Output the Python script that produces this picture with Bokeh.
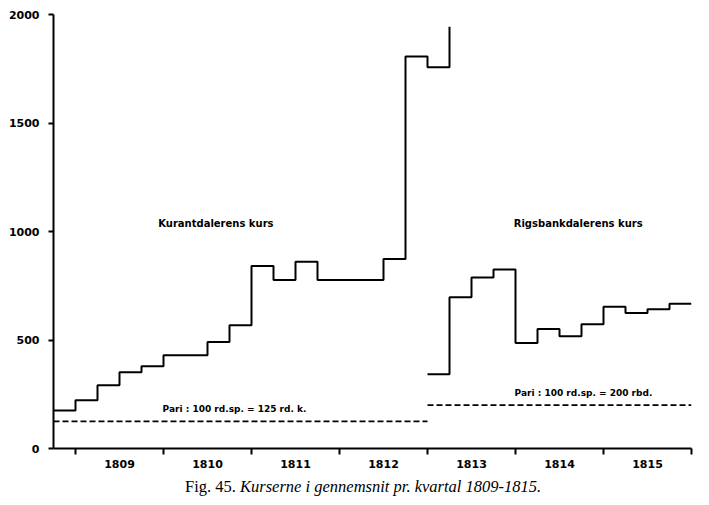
from bokeh.plotting import figure
from bokeh.models import Range1d, FixedTicker, Label, Div
from bokeh.layouts import column
from bokeh.embed import file_html
from bokeh.resources import INLINE

# ---- data (quarterly averages) ----
years = [1809, 1810, 1811, 1812, 1813, 1814, 1815]
y_ticks = [0, 500, 1000, 1500, 2000]

kurant_start = 1808.75  # first quarter shown
kurant_values = [175, 222, 291, 351, 379, 430, 430, 491, 568,
                 841, 776, 861, 776, 776, 776, 873, 1807, 1757]
kurant_exit_value = 1943  # line leaves the chart upwards

rigsbank_start = 1813.0
rigsbank_values = [342, 697, 788, 825, 486, 551, 517, 573,
                   653, 625, 642, 667]

pari_kurant = 125
pari_rigsbank = 200

caption_fig = "Fig. 45."
caption_text = "Kurserne i gennemsnit pr. kvartal 1809-1815."

# ---- derived x positions ----
kx = [kurant_start + 0.25 * i for i in range(len(kurant_values) + 1)]
ky = kurant_values + [kurant_exit_value]
rx = [rigsbank_start + 0.25 * i for i in range(len(rigsbank_values) + 1)]
ry = rigsbank_values + [rigsbank_values[-1]]

x0 = kurant_start
x_end = years[-1] + 1

p = figure(width=701, height=478, output_backend="svg", toolbar_location=None,
           x_range=Range1d(x0, x_end), y_range=Range1d(0, 2000),
           min_border_left=53, min_border_right=10, min_border_top=14,
           min_border_bottom=30)
p.outline_line_color = None
p.xgrid.visible = False
p.ygrid.visible = False
p.background_fill_color = "white"
p.border_fill_color = "white"

# step lines
p.step(kx, ky, mode="after", line_color="black", line_width=2)
p.step(rx, ry, mode="after", line_color="black", line_width=2)

# parity lines
p.line([x0, rigsbank_start], [pari_kurant, pari_kurant], line_color="black",
       line_width=1.6, line_dash="6 3")
p.line([rigsbank_start, x_end], [pari_rigsbank, pari_rigsbank], line_color="black",
       line_width=1.6, line_dash="6 3")

font = "DejaVu Sans"

# x axis: minor ticks at year boundaries, labels at year centres
xa = p.xaxis[0]
xa.ticker = FixedTicker(ticks=[y + 0.5 for y in years],
                        minor_ticks=[y for y in years] + [x_end])
xa.major_label_overrides = {y + 0.5: str(y) for y in years}
xa.major_tick_out = 0
xa.major_tick_in = 0
xa.minor_tick_out = 6
xa.minor_tick_in = 0
xa.minor_tick_line_color = "black"
xa.minor_tick_line_width = 2
xa.axis_line_color = "black"
xa.axis_line_width = 2
xa.major_label_standoff = 5
xa.major_label_text_font = font
xa.major_label_text_font_style = "bold"
xa.major_label_text_font_size = "11px"
xa.major_label_text_color = "black"

ya = p.yaxis[0]
ya.ticker = FixedTicker(ticks=y_ticks, minor_ticks=[])
ya.major_tick_out = 5
ya.major_tick_in = 0
ya.major_tick_line_color = "black"
ya.major_tick_line_width = 2
ya.axis_line_color = "black"
ya.axis_line_width = 2
ya.major_label_standoff = 9
ya.major_label_text_font = font
ya.major_label_text_font_style = "bold"
ya.major_label_text_font_size = "11px"
ya.major_label_text_color = "black"

def lab(x, y, text, size="9px"):
    p.add_layout(Label(x=x, y=y, text=text, text_font=font, text_font_size=size,
                       text_font_style="bold", text_color="black",
                       text_align="left", text_baseline="middle"))

lab(1809.94, 1035, "Kurantdalerens  kurs", size="10px")
lab(1813.98, 1035, "Rigsbankdalerens  kurs", size="10px")
lab(1809.99, 180, "Pari : 100 rd.sp. = 125  rd. k.")
lab(1813.99, 254, "Pari : 100 rd.sp. = 200  rbd.")

# caption below the chart
cap = Div(text=f"{caption_fig} <i>{caption_text}</i>", width=701, height=27,
          margin=(0, 0, 0, 0),
          styles={"font-family": "'Liberation Serif', serif", "font-size": "16.5px",
                  "color": "black", "padding-left": "185px", "line-height": "17px"})

layout = column(p, cap, spacing=0)
open("out.html", "w").write(file_html(layout, INLINE))
